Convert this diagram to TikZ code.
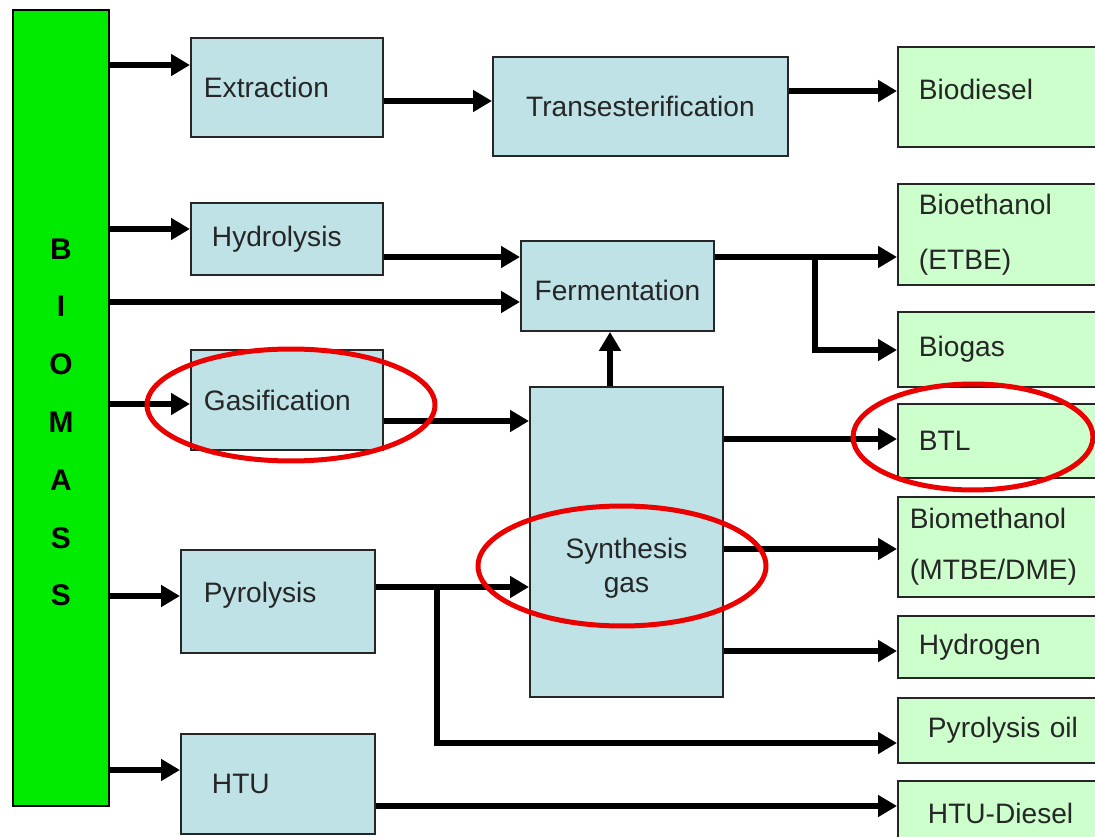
\documentclass[tikz,border=0pt]{standalone}
\usepackage{fontspec}
\setmainfont{Liberation Sans}
\usepackage{tikz}
\usetikzlibrary{arrows.meta, positioning, calc}

\definecolor{procblue}{RGB}{190,226,230}
\definecolor{fuelgreen}{RGB}{204,255,204}
\definecolor{massgreen}{RGB}{0,235,0}
\definecolor{ringred}{RGB}{235,0,0}

\begin{document}
\begin{tikzpicture}[
    x=0.02cm, y=-0.02cm,
    massnode/.style={rectangle, draw=black, line width=1.1pt, fill=massgreen, anchor=north west, minimum width=1.92cm, minimum height=15.92cm, align=center, font=\bfseries\fontsize{17}{32.9}\selectfont},
    procnode/.style={rectangle, draw=black!85, line width=1.1pt, fill=procblue, anchor=north west, minimum width=3.84cm, minimum height=1.98cm, text width=3.32cm, inner xsep=0.26cm, align=left, font=\fontsize{16}{19.3}\selectfont, text=black!85},
    fuelnode/.style={rectangle, draw=black!85, line width=1.1pt, fill=fuelgreen, anchor=north west, minimum width=4.6cm, text width=3.76cm, inner xsep=0.42cm, align=left, font=\fontsize{16}{31.2}\selectfont, text=black!85},
    arr/.style={-{Triangle[length=0.38cm, width=0.42cm]}, line width=0.12cm, black},
    ring/.style={draw=ringred, line width=0.1cm}
]
\useasboundingbox (0,0) rectangle (1095,837);
\clip (0,0) rectangle (1095,837);

% Biomass
\node[massnode] (biomass) at (12,9) {\rule{0pt}{0.99cm}B\\I\\O\\M\\A\\S\\S};

% Conversion steps
\node[procnode] (extr) at (190,37) {Extraction};
\node[procnode, minimum height=1.44cm, text width=3cm, inner xsep=0.42cm] (hydro) at (190,202) {Hydrolysis};
\node[procnode, minimum height=2cm] (gasif) at (190,349) {Gasification};
\node[procnode, minimum width=3.88cm, minimum height=2.06cm, text width=2.96cm, inner xsep=0.46cm] (pyro) at (180,549) {Pyrolysis\rule[-0.36cm]{0pt}{0pt}};
\node[procnode, minimum width=3.88cm, minimum height=2cm, text width=2.64cm, inner xsep=0.62cm] (htu) at (180,733) {HTU};

\node[procnode, minimum width=5.9cm, text width=5.38cm, align=center] (trans) at (492,56) {Transesterification};
\node[procnode, minimum width=3.86cm, minimum height=1.8cm, text width=3.34cm, align=center] (ferm) at (520,240) {\rule{0pt}{0.6cm}Fermentation};
\node[procnode, minimum width=3.86cm, minimum height=6.2cm, text width=3.34cm, align=center] (syngas) at (529,386) {\rule{0pt}{1.45cm}Synthesis\\gas};

% Fuels
\node[fuelnode, minimum height=2cm] (biodsl) at (897,46) {Biodiesel\rule[-0.32cm]{0pt}{0pt}};
\node[fuelnode, minimum height=2.02cm] (bioeth) at (897,183) {Bioethanol\\(ETBE)};
\node[fuelnode, minimum height=1.5cm] (biogas) at (897,311) {Biogas};
\node[fuelnode, minimum height=1.48cm] (btl) at (897,403) {BTL};
\node[fuelnode, minimum height=2cm, text width=4.12cm, inner xsep=0.24cm, font=\fontsize{16}{28.9}\selectfont] (biometh) at (897,496) {Biomethanol\\(MTBE/DME)};
\node[fuelnode, minimum height=1.24cm] (hydrog) at (897,615) {Hydrogen};
\node[fuelnode, minimum height=1.3cm, text width=3.4cm, inner xsep=0.6cm] (pyoil) at (897,697) {Pyrolysis oil};
\node[fuelnode, minimum height=1.28cm, text width=3.4cm, inner xsep=0.6cm] (htudsl) at (897,780) {HTU-Diesel};

% Biomass feeds
\draw[arr] (biomass.east |- 0,65) -- (extr.west |- 0,65);
\draw[arr] (biomass.east |- 0,229) -- (hydro.west |- 0,229);
\draw[arr] (biomass.east |- 0,302) -- (ferm.west |- 0,302);
\draw[arr] (biomass.east |- 0,404) -- (gasif.west |- 0,404);
\draw[arr] (biomass.east |- 0,596) -- (pyro.west |- 0,596);
\draw[arr] (biomass.east |- 0,770) -- (htu.west |- 0,770);

% Routes
\draw[arr] (extr.east |- 0,101) -- (trans.west |- 0,101);
\draw[arr] (trans.east |- 0,91) -- (biodsl.west |- 0,91);
\draw[arr] (hydro.east |- 0,257) -- (ferm.west |- 0,257);
\draw[arr] (ferm.east |- 0,257) -- (bioeth.west |- 0,257);
\coordinate (fsplit) at (815,257);
\draw[arr] (fsplit) |- (biogas.west |- 0,350);
\draw[arr] (gasif.east |- 0,421) -- (syngas.west |- 0,421);
\draw[arr] (syngas.north -| 610,0) -- (ferm.south -| 610,0);
\draw[arr] (syngas.east |- 0,439) -- (btl.west |- 0,439);
\draw[arr] (syngas.east |- 0,549) -- (biometh.west |- 0,549);
\draw[arr] (syngas.east |- 0,651) -- (hydrog.west |- 0,651);
\draw[arr] (pyro.east |- 0,587) -- (syngas.west |- 0,587);
\coordinate (psplit) at (437,587);
\draw[arr] (psplit) |- (pyoil.west |- 0,743);
\draw[arr] (htu.east |- 0,806) -- (htudsl.west |- 0,806);

% Highlights
\draw[ring] (291,405) ellipse [x radius=2.88cm, y radius=1.12cm];
\draw[ring] (622,566) ellipse [x radius=2.88cm, y radius=1.2cm];
\draw[ring] (973,437) ellipse [x radius=2.4cm, y radius=1.06cm];

\end{tikzpicture}
\end{document}
